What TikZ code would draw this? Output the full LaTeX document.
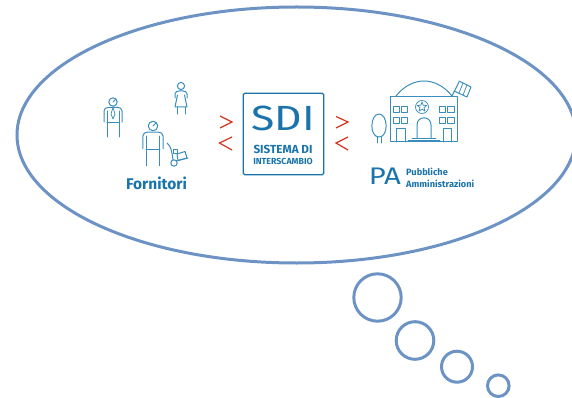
\documentclass[tikz,border=0pt]{standalone}
\usepackage{fontspec}
\usetikzlibrary{shapes.geometric}
\setmainfont{Fira Sans}
\newfontfamily\widefont[FakeStretch=1.22]{Fira Sans}
\definecolor{bubbleblue}{HTML}{6C93C4}
\definecolor{iconblue}{HTML}{3A8DBF}
\definecolor{sdiblue}{HTML}{1A74AB}
\definecolor{arrowred}{HTML}{D8331F}
\tikzset{
	bubble/.style={draw=bubbleblue,line width=3pt},
	icon/.style={draw=iconblue,line width=1pt,line cap=round,line join=round},
	thinicon/.style={icon,line width=0.75pt},
	chevron/.style={draw=arrowred,line width=1.2pt},
	caption/.style={text=sdiblue,inner sep=0pt},
}
\newcommand{\person}[3]{% head centre x, y and scale
	\begin{scope}[shift={(#1,#2)},scale=#3]
		\draw[icon] (0,0) circle (4.2);
		\draw[thinicon] (0,0) -- (2.8,-2.8);
		\draw[icon] (-9,20) -- (-9,9) .. controls (-9,6.5) and (-7,5.5) .. (-5,5.5) -- (5,5.5) .. controls (7,5.5) and (9,6.5) .. (9,9) -- (9,20);
		\draw[icon] (-6,9) -- (-6,35);
		\draw[icon] (6,9) -- (6,35);
		\draw[icon] (-6,21) -- (6,21);
	\end{scope}
}
\begin{document}
\begin{tikzpicture}[x=1pt,y=-1pt]
	\useasboundingbox (0,0) rectangle (572,398);
	% thought bubble
	\draw[bubble] (296.5,135) ellipse [x radius=279.5,y radius=128];
	\draw[bubble] (377.5,297.5) circle (23.7);
	\draw[bubble] (415,340.5) circle (18.8);
	\draw[bubble] (457,366.7) circle (15.5);
	\draw[bubble] (498.3,385.7) circle (10.8);
	% suppliers
	\person{113}{102}{1}
	\person{153}{126}{1.13}
	\draw[thinicon] (113,107.5) -- (111,114) -- (113,119) -- (115,114) -- cycle;
	\begin{scope}[shift={(181,86)}]
		\draw[icon] (0,0) circle (3.6);
		\draw[icon] (-6,12) -- (-6,8) .. controls (-6,6) and (-4,5) .. (-2,5) -- (2,5) .. controls (4,5) and (6,6) .. (6,8) -- (6,12);
		\draw[icon] (-3.5,9) -- (-6,21) -- (6,21) -- (3.5,9);
		\draw[icon] (-4,21) -- (-4,28);
		\draw[icon] (4,21) -- (4,28);
	\end{scope}
	% hand truck
	\draw[icon] (167,143) .. controls (171,146) and (172,152) .. (173,160);
	\draw[icon] (176,161) -- (188,158);
	\draw[icon] (173,150) rectangle (177,153.5);
	\draw[icon] (177,154) -- (185,151.5) -- (187,158) -- (178,160.5) -- cycle;
	\draw[icon] (174,163) circle (3.2);
	\node[caption,font=\fontsize{15.5}{15.5}\selectfont\bfseries] (fornitori) at (156.5,183) {Fornitori};
	% chevrons
	\draw[chevron] (220,116) -- (232,122) -- (220,128);
	\draw[chevron] (232,137) -- (219.5,143) -- (232,150);
	\draw[chevron] (336,116.5) -- (348,122) -- (336,128);
	\draw[chevron] (348,137) -- (336,143) -- (348,150);
	% central box
	\node[draw=sdiblue,line width=1.4pt,rounded corners=1.5pt,minimum width=80.5pt,minimum height=81.5pt,inner sep=0pt] (box) at (283.5,134) {};
	\node[caption,font=\fontsize{35}{35}\widefont] (sdi) at (283,118) {SDI};
	\node[caption,font=\fontsize{11.7}{11.7}\selectfont\bfseries] (sistema) at (283,149) {SISTEMA DI};
	\node[caption,font=\fontsize{8.8}{8.8}\selectfont\bfseries] (interscambio) at (283,161) {INTERSCAMBIO};
	% public administrations
	\draw[icon] (390,97) rectangle (457,142);
	\draw[icon] (396,96) .. controls (412,76) and (436,76) .. (452,96);
	\draw[icon] (452,96) -- (459,82);
	\draw[icon] (459,81) -- (471,87) -- (467,97) -- (454,91);
	\draw[thinicon] (463,83) -- (459,93);
	\draw[thinicon] (467,85) -- (463,95);
	\foreach \wx in {393,401,439,447.5} {
		\foreach \wy in {106,117} {
			\draw[thinicon] (\wx,\wy) rectangle ++(6.5,6.5);
		}
	}
	\node[thinicon,circle,minimum size=13pt,inner sep=0pt] (seal) at (422,107) {};
	\node[thinicon,star,star points=5,star point ratio=2.4,minimum size=10pt,inner sep=0pt] (sealstar) at (422,107) {};
	\draw[icon] (417,138) -- (417,125) .. controls (417,115.5) and (431,115.5) .. (431,125) -- (431,138);
	\draw[icon] (396,142) -- (396,129) -- (405,129) -- (405,142);
	\draw[icon] (443,142) -- (443,129) -- (451,129) -- (451,142);
	\draw[thinicon] (412,138.5) -- (436,138.5);
	\draw[thinicon] (408,140.5) -- (440,140.5);
	\draw[icon] (379,137) .. controls (369,137) and (370,114) .. (379,114) .. controls (388,114) and (389,137) .. (379,137);
	\draw[icon] (377.5,137) -- (377.5,143);
	\draw[icon] (381,137) -- (381,143);
	\node[caption,font=\fontsize{24}{24}\widefont] (pa) at (385,176.5) {PA};
	\node[caption,anchor=west,font=\fontsize{9.2}{9.2}\selectfont\bfseries] (pubbliche) at (406,171.5) {Pubbliche};
	\node[caption,anchor=west,font=\fontsize{9.2}{9.2}\selectfont\bfseries] (amministrazioni) at (406,183.5) {Amministrazioni};
\end{tikzpicture}
\end{document}
